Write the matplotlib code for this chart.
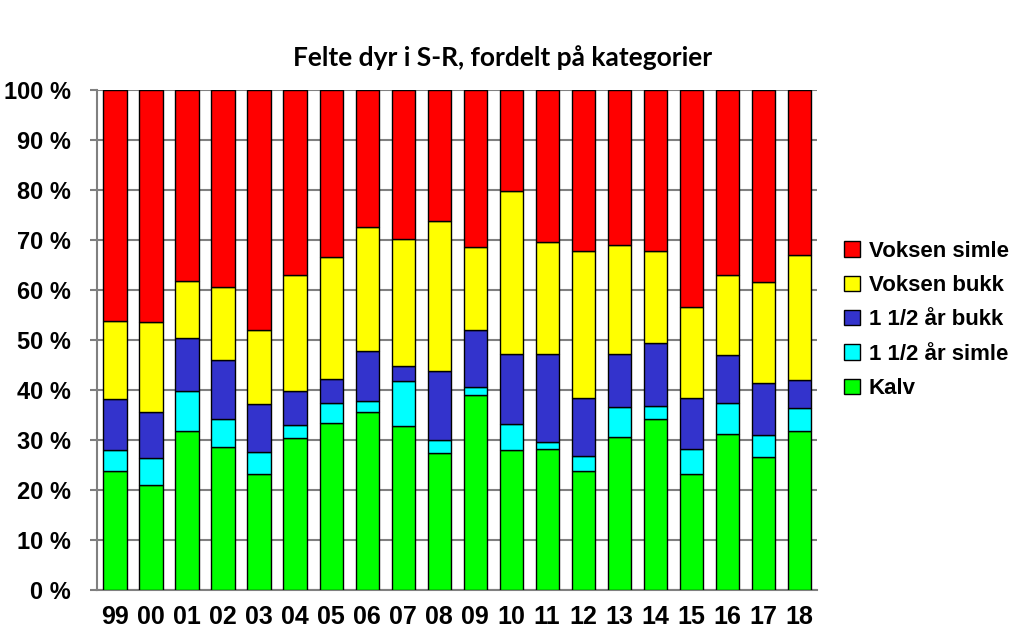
import matplotlib.pyplot as plt
import numpy as np

years = ["99", "00", "01", "02", "03", "04", "05", "06", "07", "08",
         "09", "10", "11", "12", "13", "14", "15", "16", "17", "18"]

kalv = [23.7, 21.0, 31.7, 28.5, 23.1, 30.4, 33.3, 35.5, 32.8, 27.4,
        38.9, 27.9, 28.1, 23.8, 30.6, 34.2, 23.2, 31.1, 26.6, 31.7]
simle_15 = [4.3, 5.4, 8.0, 5.7, 4.5, 2.6, 4.0, 2.2, 8.9, 2.5,
            1.7, 5.3, 1.5, 2.9, 5.9, 2.6, 4.9, 6.3, 4.3, 4.7]
bukk_15 = [10.1, 9.1, 10.6, 11.7, 9.5, 6.7, 4.8, 10.0, 3.0, 13.8,
           11.3, 14.0, 17.6, 11.6, 10.6, 12.5, 10.2, 9.5, 10.4, 5.5]
voksen_bukk = [15.7, 18.0, 11.5, 14.6, 14.8, 23.2, 24.5, 24.9, 25.5, 30.0,
               16.6, 32.6, 22.4, 29.4, 21.9, 18.4, 18.2, 16.0, 20.2, 25.0]
voksen_simle = [46.2, 46.5, 38.2, 39.5, 48.1, 37.1, 33.4, 27.4, 29.8, 26.3,
                31.5, 20.2, 30.4, 32.3, 31.0, 32.3, 43.5, 37.1, 38.5, 33.1]

series = [("Kalv", kalv, "#00ff00"),
          ("1 1/2 år simle", simle_15, "#00ffff"),
          ("1 1/2 år bukk", bukk_15, "#3333cc"),
          ("Voksen bukk", voksen_bukk, "#ffff00"),
          ("Voksen simle", voksen_simle, "#ff0000")]

fig = plt.figure(figsize=(10.24, 6.36), dpi=100)
ax = fig.add_axes([0.0947, 0.0731, 0.7033, 0.7854])

x = np.arange(len(years))
bottom = np.zeros(len(years))
handles = []
for name, vals, col in series:
    b = ax.bar(x, vals, 0.64, bottom=bottom, color=col, edgecolor="black",
               linewidth=1.0, label=name, zorder=3)
    handles.append(b)
    bottom += np.array(vals)

ax.set_xlim(-0.5, len(years) - 0.5)
ax.set_ylim(0, 100)
ax.set_yticks(range(0, 101, 10))
ax.set_yticklabels([f"{v} %" for v in range(0, 101, 10)])
ax.set_xticks(x)
ax.set_xticklabels(years)

ax.yaxis.grid(True, color="#808080", linewidth=1.5, zorder=0)
for s in ["top", "right"]:
    ax.spines[s].set_visible(False)
for s in ["left", "bottom"]:
    ax.spines[s].set_color("#808080")
    ax.spines[s].set_linewidth(1.5)
ax.tick_params(axis="y", length=5, color="#808080", width=1.5, pad=14)
ax.tick_params(axis="x", length=0, pad=11)

for lab in ax.get_yticklabels():
    lab.set_fontfamily(["Liberation Sans", "DejaVu Sans"])
    lab.set_fontweight("bold")
    lab.set_fontsize(17)
for lab in ax.get_xticklabels():
    lab.set_fontfamily(["Liberation Sans", "DejaVu Sans"])
    lab.set_fontweight("bold")
    lab.set_fontsize(18)

fig.text(0.491, 0.909, "Felte dyr i S-R, fordelt på kategorier", ha="center",
         va="center", fontsize=19, fontweight="bold",
         family=["Lato", "DejaVu Sans"])

leg = fig.legend(handles[::-1], [s[0] for s in series][::-1],
                 loc="center left", bbox_to_anchor=(0.805, 0.497),
                 frameon=False, handlelength=0.7, handleheight=0.7,
                 handletextpad=0.4, labelspacing=0.6,
                 prop={"family": ["Liberation Sans", "DejaVu Sans"],
                       "weight": "bold", "size": 16})

fig.savefig("out.png", dpi=100)
